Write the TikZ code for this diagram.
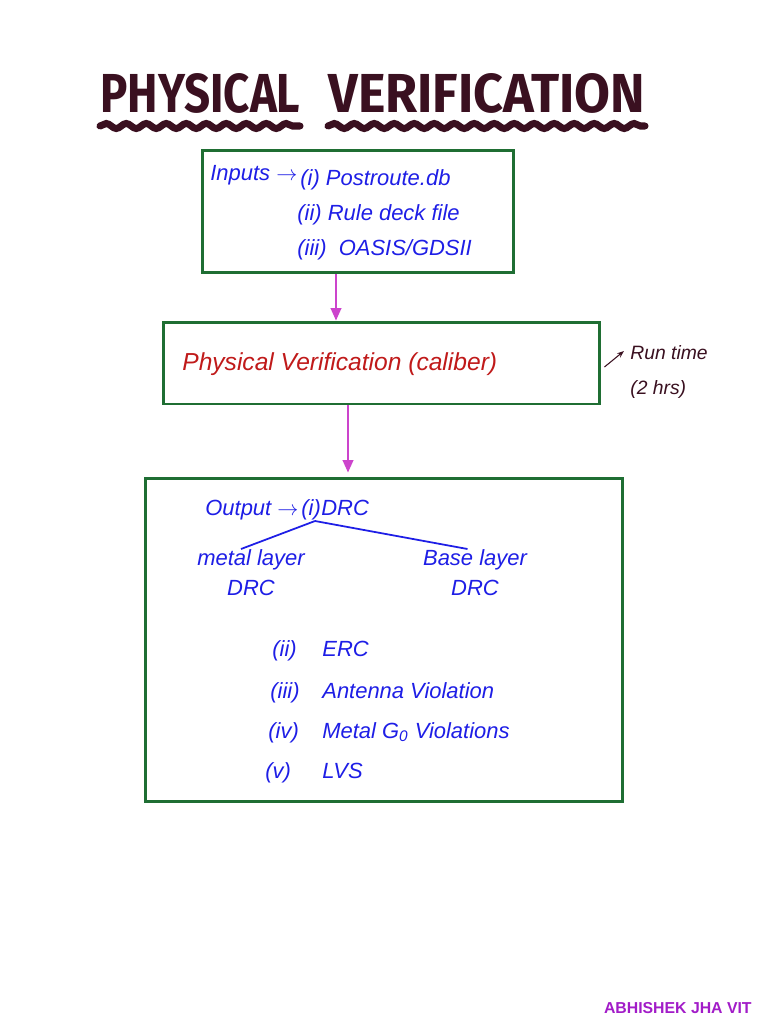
\documentclass[tikz,border=0pt]{standalone}
\usepackage{fontspec}
\setmainfont{Liberation Sans}
\newfontfamily\titlefont{Fira Sans}
\usetikzlibrary{decorations.pathmorphing,arrows.meta}
\definecolor{boxgreen}{HTML}{1F6E33}
\definecolor{pen}{HTML}{1E1EE6}
\definecolor{redpen}{HTML}{C01A1A}
\definecolor{dark}{HTML}{3A1020}
\definecolor{arrowmag}{HTML}{CC44CC}
\definecolor{wm}{HTML}{A21CC8}
\tikzset{
  box/.style={draw=boxgreen, line width=1.7pt, fill=none, inner sep=0pt},
  flow/.style={draw=arrowmag, line width=1pt, -{Triangle[length=7pt,width=6pt]}},
  bluetext/.style={text=pen, font=\itshape\fontsize{12.5}{15}\selectfont, inner sep=0pt},
  redtext/.style={text=redpen, font=\itshape\fontsize{14}{16}\selectfont, inner sep=0pt},
  darktext/.style={text=dark, font=\itshape\fontsize{11}{20}\selectfont, inner sep=0pt},
  wavy/.style={draw=dark, line width=4pt, line cap=round, decorate,
    decoration={snake, segment length=0.4cm, amplitude=0.05cm}},
}
\begin{document}
\begin{tikzpicture}[x=0.02cm,y=-0.02cm]
\useasboundingbox (0,0) rectangle (768,1024);
\fill[white] (0,0) rectangle (768,1024);

% title
\node[anchor=south west, inner sep=0pt, text=dark] (t1) at (100,114)
  {\resizebox{4cm}{0.78cm}{\titlefont\bfseries PHYSICAL}};
\node[anchor=south west, inner sep=0pt, text=dark] (t2) at (328,114)
  {\resizebox{6.34cm}{0.78cm}{\titlefont\bfseries VERIFICATION}};
\draw[wavy] (t1.south west) ++(0,12) -- ++(200,0);
\draw[wavy] (t2.south west) ++(0,12) -- ++(317,0);

% boxes
\node[box, minimum width=6.24cm, minimum height=2.46cm] (b1) at (358,211.5) {};
\node[box, minimum width=8.74cm, minimum height=1.64cm] (b2) at (381.5,363) {};
\node[box, minimum width=9.56cm, minimum height=6.48cm] (b3) at (384,640) {};

% arrows
\coordinate (a1) at (336,0);
\coordinate (a2) at (348,0);
\draw[flow] (a1 |- b1.south) -- (a1 |- b2.north);
\draw[flow] (a2 |- b2.south) -- ([yshift=0.08cm]a2 |- b3.north);

% box 1 text
\node[bluetext, anchor=base west] (inp) at (210,180) {Inputs $\rightarrow$};
\node[bluetext, anchor=base west] (i1) at (300,185) {(i) Postroute.db};
\node[bluetext, anchor=base west] (i2) at (297,220) {(ii) Rule deck file};
\node[bluetext, anchor=base west] (i3) at (297,255) {(iii)\ \ OASIS/GDSII};

% box 2 text
\node[redtext, anchor=base west] (pv) at (182,370) {Physical Verification (caliber)};
\node[darktext, anchor=north west, align=left] (rt) at (630,345) {Run time\\(2 hrs)};
\draw[dark, line width=0.6pt, -{Stealth[length=4pt]}] ([xshift=0.06cm,yshift=-0.08cm]b2.east) -- ([xshift=-0.12cm,yshift=-0.12cm]rt.north west);

% box 3 text
\node[bluetext, anchor=base west] (out) at (205,515) {Output $\rightarrow$};
\node[bluetext, anchor=base west] (oi) at (301,515) {(i)};
\node[bluetext, anchor=base west] (drc) at (321,515) {DRC};
\coordinate (apex) at (315,521);
\node[bluetext, anchor=north, align=center] (metal) at (251,549) {metal layer\\[2pt]DRC};
\node[bluetext, anchor=north, align=center] (base) at (475,549) {Base layer\\[2pt]DRC};
\draw[pen, line width=1pt] (apex) -- ([xshift=-0.2cm]metal.north);
\draw[pen, line width=1pt] (apex) -- ([xshift=-0.15cm]base.north);

\node[bluetext, anchor=base west] (l2) at (272,656) {(ii)};
\node[bluetext, anchor=base west] (e2) at (322,656) {ERC};
\node[bluetext, anchor=base west] (l3) at (270,698) {(iii)};
\node[bluetext, anchor=base west] (e3) at (322,698) {Antenna Violation};
\node[bluetext, anchor=base west] (l4) at (268,738) {(iv)};
\node[bluetext, anchor=base west] (e4) at (322,738) {Metal G\textsubscript{0} Violations};
\node[bluetext, anchor=base west] (l5) at (265,778) {(v)};
\node[bluetext, anchor=base west] (e5) at (322,778) {LVS};

% watermark
\node[anchor=base east, inner sep=0pt, text=wm, font=\bfseries\fontsize{9}{10}\selectfont] (wm) at (752,1013) {ABHISHEK JHA VIT};
\end{tikzpicture}
\end{document}
